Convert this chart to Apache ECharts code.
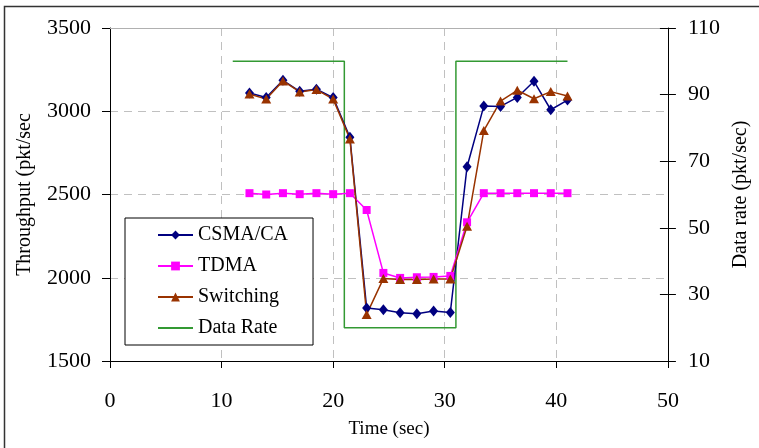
<!DOCTYPE html>
<html>
<head>
<meta charset="utf-8">
<script src="https://cdn.jsdelivr.net/npm/echarts@6/dist/echarts.min.js"></script>
<style>
  html, body { margin: 0; padding: 0; background: #fff; }
  #main { width: 759px; height: 448px; }
</style>
</head>
<body>
<div id="main"></div>
<script>
// time of each sample (sec)
var times = [12.5, 14, 15.5, 17, 18.5, 20, 21.5, 23, 24.5, 26, 27.5, 29, 30.5, 32, 33.5, 35, 36.5, 38, 39.5, 41];
// throughput (pkt/sec)
var csma = [3110, 3082, 3186, 3120, 3132, 3082, 2844, 1818, 1808, 1790, 1784, 1800, 1792, 2667, 3031, 3029, 3083, 3180, 3009, 3067];
var tdma = [2508, 2500, 2508, 2502, 2508, 2502, 2508, 2407, 2029, 1999, 2003, 2005, 2011, 2333, 2508, 2508, 2508, 2508, 2508, 2508];
var switching = [3104, 3073, 3182, 3116, 3130, 3073, 2834, 1780, 1995, 1989, 1989, 1993, 1993, 2309, 2884, 3061, 3126, 3075, 3118, 3092];
// data rate step (pkt/sec)
var rateTimes = [11, 21, 21, 31, 31, 41];
var rateValues = [100, 100, 20, 20, 100, 100];

var legendNames = ['CSMA/CA', 'TDMA', 'Switching', 'Data Rate'];

// pair x with y
function pairs(xs, ys) {
    var out = [];
    for (var i = 0; i < xs.length; i++) {
        out.push([xs[i], ys[i]]);
    }
    return out;
}

// no thousands separator
function plain(v) {
    return String(v);
}

var font = 'Liberation Serif';
var dash = { color: '#c0c0c0', type: [8, 6], width: 1 };

var myChart = echarts.init(document.getElementById('main'));

var option = {
    backgroundColor: '#fff',
    animation: false,
    textStyle: { fontFamily: font, color: '#000' },
    grid: { left: 110, right: 90, top: 28, bottom: 87 },
    // outer frame, cut off at the right and bottom
    graphic: [{
        type: 'rect',
        shape: { x: 4.5, y: 6.5, width: 800, height: 500 },
        style: { fill: 'none', stroke: '#333', lineWidth: 1.5 },
        silent: true
    }],
    legend: {
        data: legendNames.map(function (n) {
            // the data rate entry is a bare line
            return n === 'Data Rate' ? { name: n, itemStyle: { opacity: 0 } } : { name: n };
        }),
        orient: 'vertical',
        left: 125,
        top: 218,
        itemWidth: 35,
        itemHeight: 11,
        itemGap: 11,
        padding: [7, 25, 7, 32],
        borderColor: '#000',
        borderWidth: 1,
        backgroundColor: '#fff',
        textStyle: { fontFamily: font, fontSize: 20, color: '#000' }
    },
    xAxis: [{
        type: 'value',
        min: 0,
        max: 50,
        interval: 10,
        name: 'Time (sec)',
        nameLocation: 'middle',
        nameGap: 59,
        nameTextStyle: { fontFamily: font, fontSize: 19, color: '#000' },
        axisLine: { onZero: false, lineStyle: { color: '#000', width: 1 } },
        axisTick: { length: 7, lineStyle: { color: '#000' } },
        axisLabel: { margin: 29, fontFamily: font, fontSize: 22, color: '#000' },
        splitLine: { show: true, lineStyle: dash }
    }, {
        // top edge of plot
        type: 'value',
        position: 'top',
        min: 0,
        max: 50,
        axisLine: { show: true, onZero: false, lineStyle: { color: '#b0b0b0', width: 1 } },
        axisTick: { show: false },
        axisLabel: { show: false },
        splitLine: { show: false }
    }],
    yAxis: [{
        type: 'value',
        min: 1500,
        max: 3500,
        interval: 500,
        name: 'Throughput (pkt/sec',
        nameLocation: 'middle',
        nameGap: 75,
        nameTextStyle: { fontFamily: font, fontSize: 20, color: '#000' },
        axisLine: { show: true, onZero: false, lineStyle: { color: '#000', width: 1 } },
        axisTick: { show: true, length: 8, lineStyle: { color: '#000' } },
        axisLabel: { margin: 19, fontFamily: font, fontSize: 22, color: '#000', formatter: plain },
        splitLine: { show: true, lineStyle: dash }
    }, {
        type: 'value',
        position: 'right',
        min: 10,
        max: 110,
        interval: 20,
        name: 'Data rate (pkt/sec)',
        nameLocation: 'middle',
        nameGap: 63,
        nameRotate: 90,
        nameTextStyle: { fontFamily: font, fontSize: 20, color: '#000' },
        axisLine: { show: true, onZero: false, lineStyle: { color: '#000', width: 1 } },
        axisTick: { show: true, length: 8, lineStyle: { color: '#000' } },
        axisLabel: { margin: 20, fontFamily: font, fontSize: 22, color: '#000', formatter: plain },
        splitLine: { show: false }
    }, {
        // inner half of the right ticks
        type: 'value',
        position: 'right',
        min: 10,
        max: 110,
        interval: 20,
        axisLine: { show: false, onZero: false },
        axisTick: { show: true, inside: true, length: 8, lineStyle: { color: '#000' } },
        axisLabel: { show: false },
        splitLine: { show: false }
    }],
    series: [{
        name: 'Data Rate',
        type: 'line',
        yAxisIndex: 1,
        data: pairs(rateTimes, rateValues),
        showSymbol: false,
        symbol: 'none',
        lineStyle: { color: '#339933', width: 1.5 },
        itemStyle: { color: '#339933' }
    }, {
        name: 'CSMA/CA',
        type: 'line',
        data: pairs(times, csma),
        symbol: 'diamond',
        symbolSize: [9, 11],
        lineStyle: { color: '#000080', width: 1.5 },
        itemStyle: { color: '#000080' }
    }, {
        name: 'TDMA',
        type: 'line',
        data: pairs(times, tdma),
        symbol: 'rect',
        symbolSize: 8,
        lineStyle: { color: '#ff00ff', width: 1.5 },
        itemStyle: { color: '#ff00ff' }
    }, {
        name: 'Switching',
        type: 'line',
        data: pairs(times, switching),
        symbol: 'triangle',
        symbolSize: [10, 9],
        lineStyle: { color: '#993300', width: 1.5 },
        itemStyle: { color: '#993300' }
    }]
};

myChart.setOption(option);
</script>
</body>
</html>
